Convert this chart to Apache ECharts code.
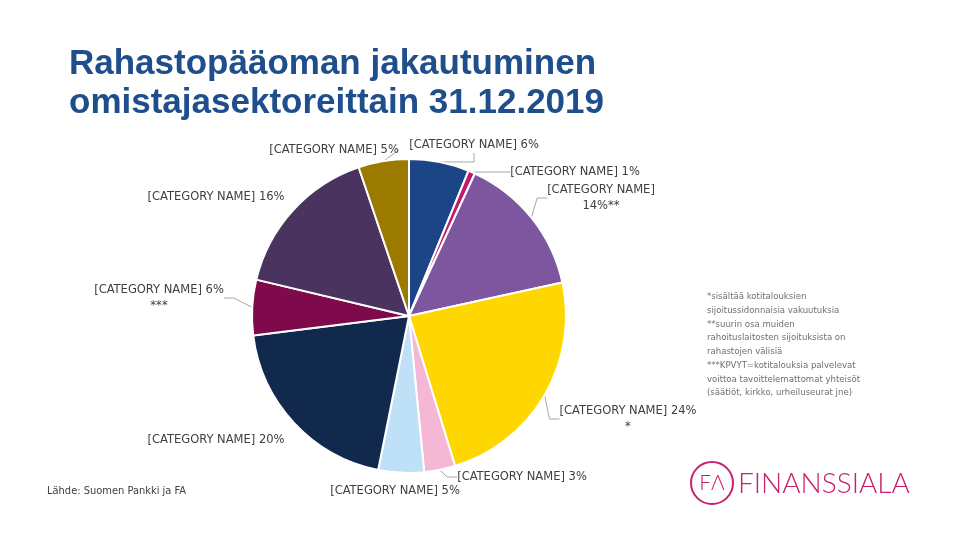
<!DOCTYPE html>
<html><head><meta charset="utf-8">
<script src="https://cdn.jsdelivr.net/npm/echarts@6/dist/echarts.min.js"></script>
<style>html,body{margin:0;padding:0;background:#fff}#c{width:960px;height:540px}</style>
</head><body><div id="c"></div>
<script>
const categories = ['[CATEGORY NAME]','[CATEGORY NAME]','[CATEGORY NAME]','[CATEGORY NAME]','[CATEGORY NAME]','[CATEGORY NAME]','[CATEGORY NAME]','[CATEGORY NAME]','[CATEGORY NAME]','[CATEGORY NAME]'];
const values = [6.2, 0.7, 14.7, 23.7, 3.2, 4.7, 19.9, 5.7, 16.1, 5.2];
const labelPercents = ['6%','1%','14%**','24%','3%','5%','20%','6%','16%','5%'];
const labelTemplates = ['{n} {p}','{n} {p}','{n}\n{p}','{n} {p}\n*','{n} {p}','{n} {p}','{n} {p}','{n} {p}\n***','{n} {p}','{n} {p}'];
const colors = ['#1c4587','#c0196e','#7e56a0','#fed600','#f4b8d4','#bfe1f7','#10294c','#7e0a4b','#4b3360','#9a7b00'];
const showLine = [true,true,true,true,true,false,false,true,false,true];
const labelPos = [[474,145],[575,172],[601,198],[628,419],[522,477],[395,491],[216,440],[159,298],[216,197],[334,150]];
const notes = ['*sisältää kotitalouksien','sijoitussidonnaisia vakuutuksia','**suurin osa muiden','rahoituslaitosten sijoituksista on','rahastojen välisiä','***KPVYT=kotitalouksia palvelevat','voittoa tavoittelemattomat yhteisöt','(säätiöt, kirkko, urheiluseurat jne)'];

const labelFont = '"Liberation Sans Narrow","DejaVu Sans Condensed","Liberation Sans",sans-serif';
const chart = echarts.init(document.getElementById('c'));
chart.setOption({
  animation: false,
  title: {
    text: 'Rahastopääoman jakautuminen\nomistajasektoreittain 31.12.2019',
    left: 64, top: 40,
    textStyle: {fontFamily: '"Liberation Sans",Arial,sans-serif', fontSize: 35, fontWeight: 'bold', color: '#1f4e8c', lineHeight: 39}
  },
  graphic: [
    {type:'text', left: 707, top: 290, style:{text: notes.join('\n'), font: '9.5px ' + labelFont, fill:'#6f6f6f', lineHeight: 13.7}},
    {type:'text', left: 47, top: 486, style:{text: 'Lähde: Suomen Pankki ja FA', font: '11px ' + labelFont, fill:'#404040'}},
    {type:'circle', shape:{cx:712, cy:483, r:21}, style:{fill:'none', stroke:'#c8206e', lineWidth:2}},
    {type:'text', x:712, y:483, style:{text:'FΛ', font:'300 21px Lato,"Open Sans",sans-serif', fill:'#c8206e', align:'center', verticalAlign:'middle'}},
    {type:'text', x:738, y:484, style:{text:'FINANSSIALA', font:'300 28px Lato,"Open Sans",sans-serif', fill:'#c8206e', verticalAlign:'middle'}}
  ],
  series: [{
    type: 'pie',
    center: [409, 316],
    radius: 157,
    startAngle: 90,
    clockwise: true,
    data: values.map((v, i) => ({
      name: categories[i], value: v,
      itemStyle: {color: colors[i]},
      label: {formatter: labelTemplates[i].replace('{n}', categories[i]).replace('{p}', labelPercents[i])},
      labelLine: {show: showLine[i]}
    })),
    itemStyle: {borderColor: '#fff', borderWidth: 2},
    label: {
      show: true, position: 'outside', fontFamily: labelFont, fontSize: 12.8, color: '#404040',
      lineHeight: 16, align: 'center'
    },
    labelLine: {show: true, length: 10, length2: 10, lineStyle: {color: '#a6a6a6', width: 1}},
    labelLayout: function (p) {
      const pos = labelPos[p.dataIndex];
      return {x: pos[0], y: pos[1], align: 'center', verticalAlign: 'middle'};
    }
  }]
});
</script></body></html>
